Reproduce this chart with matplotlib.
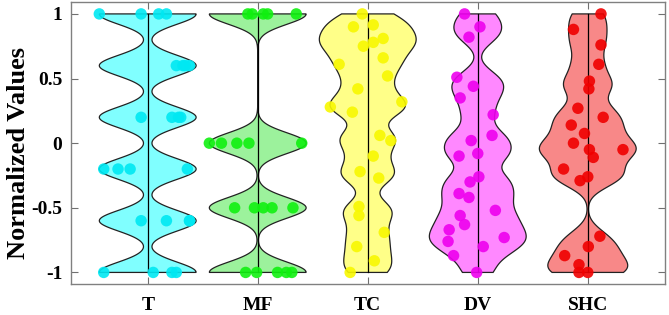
import matplotlib
matplotlib.use("Agg")
import matplotlib.pyplot as plt
import numpy as np

# ---- data ----
categories = ["T", "MF", "TC", "DV", "SHC"]

t_vals = [1, 1, 1, 1, 0.6, 0.6, 0.6, 0.6, 0.2, 0.2, 0.2, 0.2,
          -0.2, -0.2, -0.2, -0.2, -0.6, -0.6, -0.6, -0.6, -1, -1, -1, -1]
t_offs = [-0.44, -0.06, 0.10, 0.17, 0.26, 0.32, 0.38, 0.34, -0.06, 0.22, 0.30, 0.28,
          -0.40, -0.27, -0.16, 0.36, -0.06, 0.17, 0.38, 0.38, -0.40, 0.05, 0.22, 0.26]

mf_vals = [1, 1, 1, 1, 1, 0, 0, 0, 0, 0,
           -0.5, -0.5, -0.5, -0.5, -0.5, -1, -1, -1, -1, -1]
mf_offs = [-0.09, -0.05, 0.05, 0.09, 0.35, -0.44, -0.33, -0.19, -0.08, 0.40,
           -0.21, -0.03, 0.05, 0.13, 0.32, -0.11, -0.01, 0.18, 0.26, 0.31]

tc_vals = [1.0, 0.90, 0.915, 0.81, 0.75, 0.78, 0.61, 0.66, 0.52, 0.42, 0.32, 0.28,
           0.24, 0.06, 0.02, -0.10, -0.22, -0.27, -0.49, -0.56, -0.69, -0.80, -0.91, -1.0]
tc_offs = [-0.05, -0.13, 0.05, 0.14, -0.04, 0.05, -0.26, 0.14, 0.18, -0.09, 0.31, -0.34,
           -0.14, 0.11, 0.21, 0.05, -0.07, 0.10, -0.08, -0.08, 0.15, -0.10, 0.06, -0.16]

dv_vals = [1.0, 0.90, 0.82, 0.51, 0.44, 0.35, 0.22, 0.06, 0.02, -0.08, -0.10, -0.26,
           -0.30, -0.39, -0.42, -0.52, -0.56, -0.63, -0.67, -0.76, -0.73, -0.80, -0.87, -1.0]
dv_offs = [-0.12, 0.02, -0.08, -0.19, -0.04, -0.16, 0.14, 0.13, -0.06, 0.0, -0.17, 0.01,
           -0.07, -0.17, -0.08, 0.16, -0.16, -0.12, -0.26, -0.27, 0.24, 0.05, -0.22, -0.01]

shc_vals = [1.0, 0.88, 0.76, 0.61, 0.48, 0.42, 0.27, 0.20, 0.14, 0.075, 0.0, -0.05,
            -0.05, -0.11, -0.20, -0.26, -0.29, -0.72, -0.80, -0.87, -0.94, -1.0, -1.0]
shc_offs = [0.12, -0.13, 0.12, 0.10, 0.015, 0.01, -0.09, 0.14, -0.15, -0.03, -0.13, 0.015,
            0.32, 0.05, -0.22, 0.0, -0.07, 0.11, 0.005, -0.21, -0.08, -0.08, 0.0]

all_vals = [t_vals, mf_vals, tc_vals, dv_vals, shc_vals]
all_offs = [t_offs, mf_offs, tc_offs, dv_offs, shc_offs]

fill_colors = ["#80ffff", "#9cf29c", "#ffff88", "#ff88ff", "#f88888"]
dot_colors = ["#00e8f2", "#10f010", "#f8f800", "#ee00ee", "#f00000"]

BW = 0.08
HALF_W = 0.44


def violin_shape(vals, bw):
    """Gaussian KDE evaluated between min and max of the data."""
    vals = np.asarray(vals, dtype=float)
    y = np.linspace(vals.min(), vals.max(), 400)
    d = np.exp(-0.5 * ((y[:, None] - vals[None, :]) / bw) ** 2).sum(axis=1)
    return y, d / d.max()


plt.rcParams["font.family"] = ["Liberation Serif", "DejaVu Serif"]
plt.rcParams["font.weight"] = "bold"

fig = plt.figure(figsize=(6.69, 3.15), dpi=100)
ax = fig.add_axes([0.1057, 0.097, 0.888, 0.897])

for i, (vals, offs) in enumerate(zip(all_vals, all_offs)):
    pos = i + 1
    y, d = violin_shape(vals, BW)
    w = d * HALF_W
    xs = np.concatenate([pos - w, (pos + w)[::-1]])
    ys = np.concatenate([y, y[::-1]])
    ax.fill(xs, ys, facecolor=fill_colors[i], edgecolor="#222222", linewidth=0.9, zorder=1)
    ax.plot([pos, pos], [min(vals), max(vals)], color="black", linewidth=0.9, zorder=2)
    ax.scatter(pos + np.asarray(offs), vals, s=68, color=dot_colors[i],
               alpha=0.9, edgecolors="none", zorder=3)

ax.set_xlim(0.3, 5.7)
ax.set_ylim(-1.093, 1.093)
ax.set_xticks(range(1, 6))
ax.set_xticklabels(categories)
ax.set_yticks([-1, -0.5, 0, 0.5, 1])
ax.set_yticklabels(["-1", "-0.5", "0", "0.5", "1"])
ax.tick_params(direction="in", length=5, width=0.8, color="#707070",
               top=True, right=True, labelsize=14, pad=6)
ax.tick_params(axis="x", pad=9)
for sp in ax.spines.values():
    sp.set_color("#808080")
    sp.set_linewidth(1.0)
ax.set_ylabel("Normalized Values", fontsize=19, fontweight="bold")
ax.yaxis.set_label_coords(-0.068, 0.465)

fig.savefig("out.png", dpi=100)
